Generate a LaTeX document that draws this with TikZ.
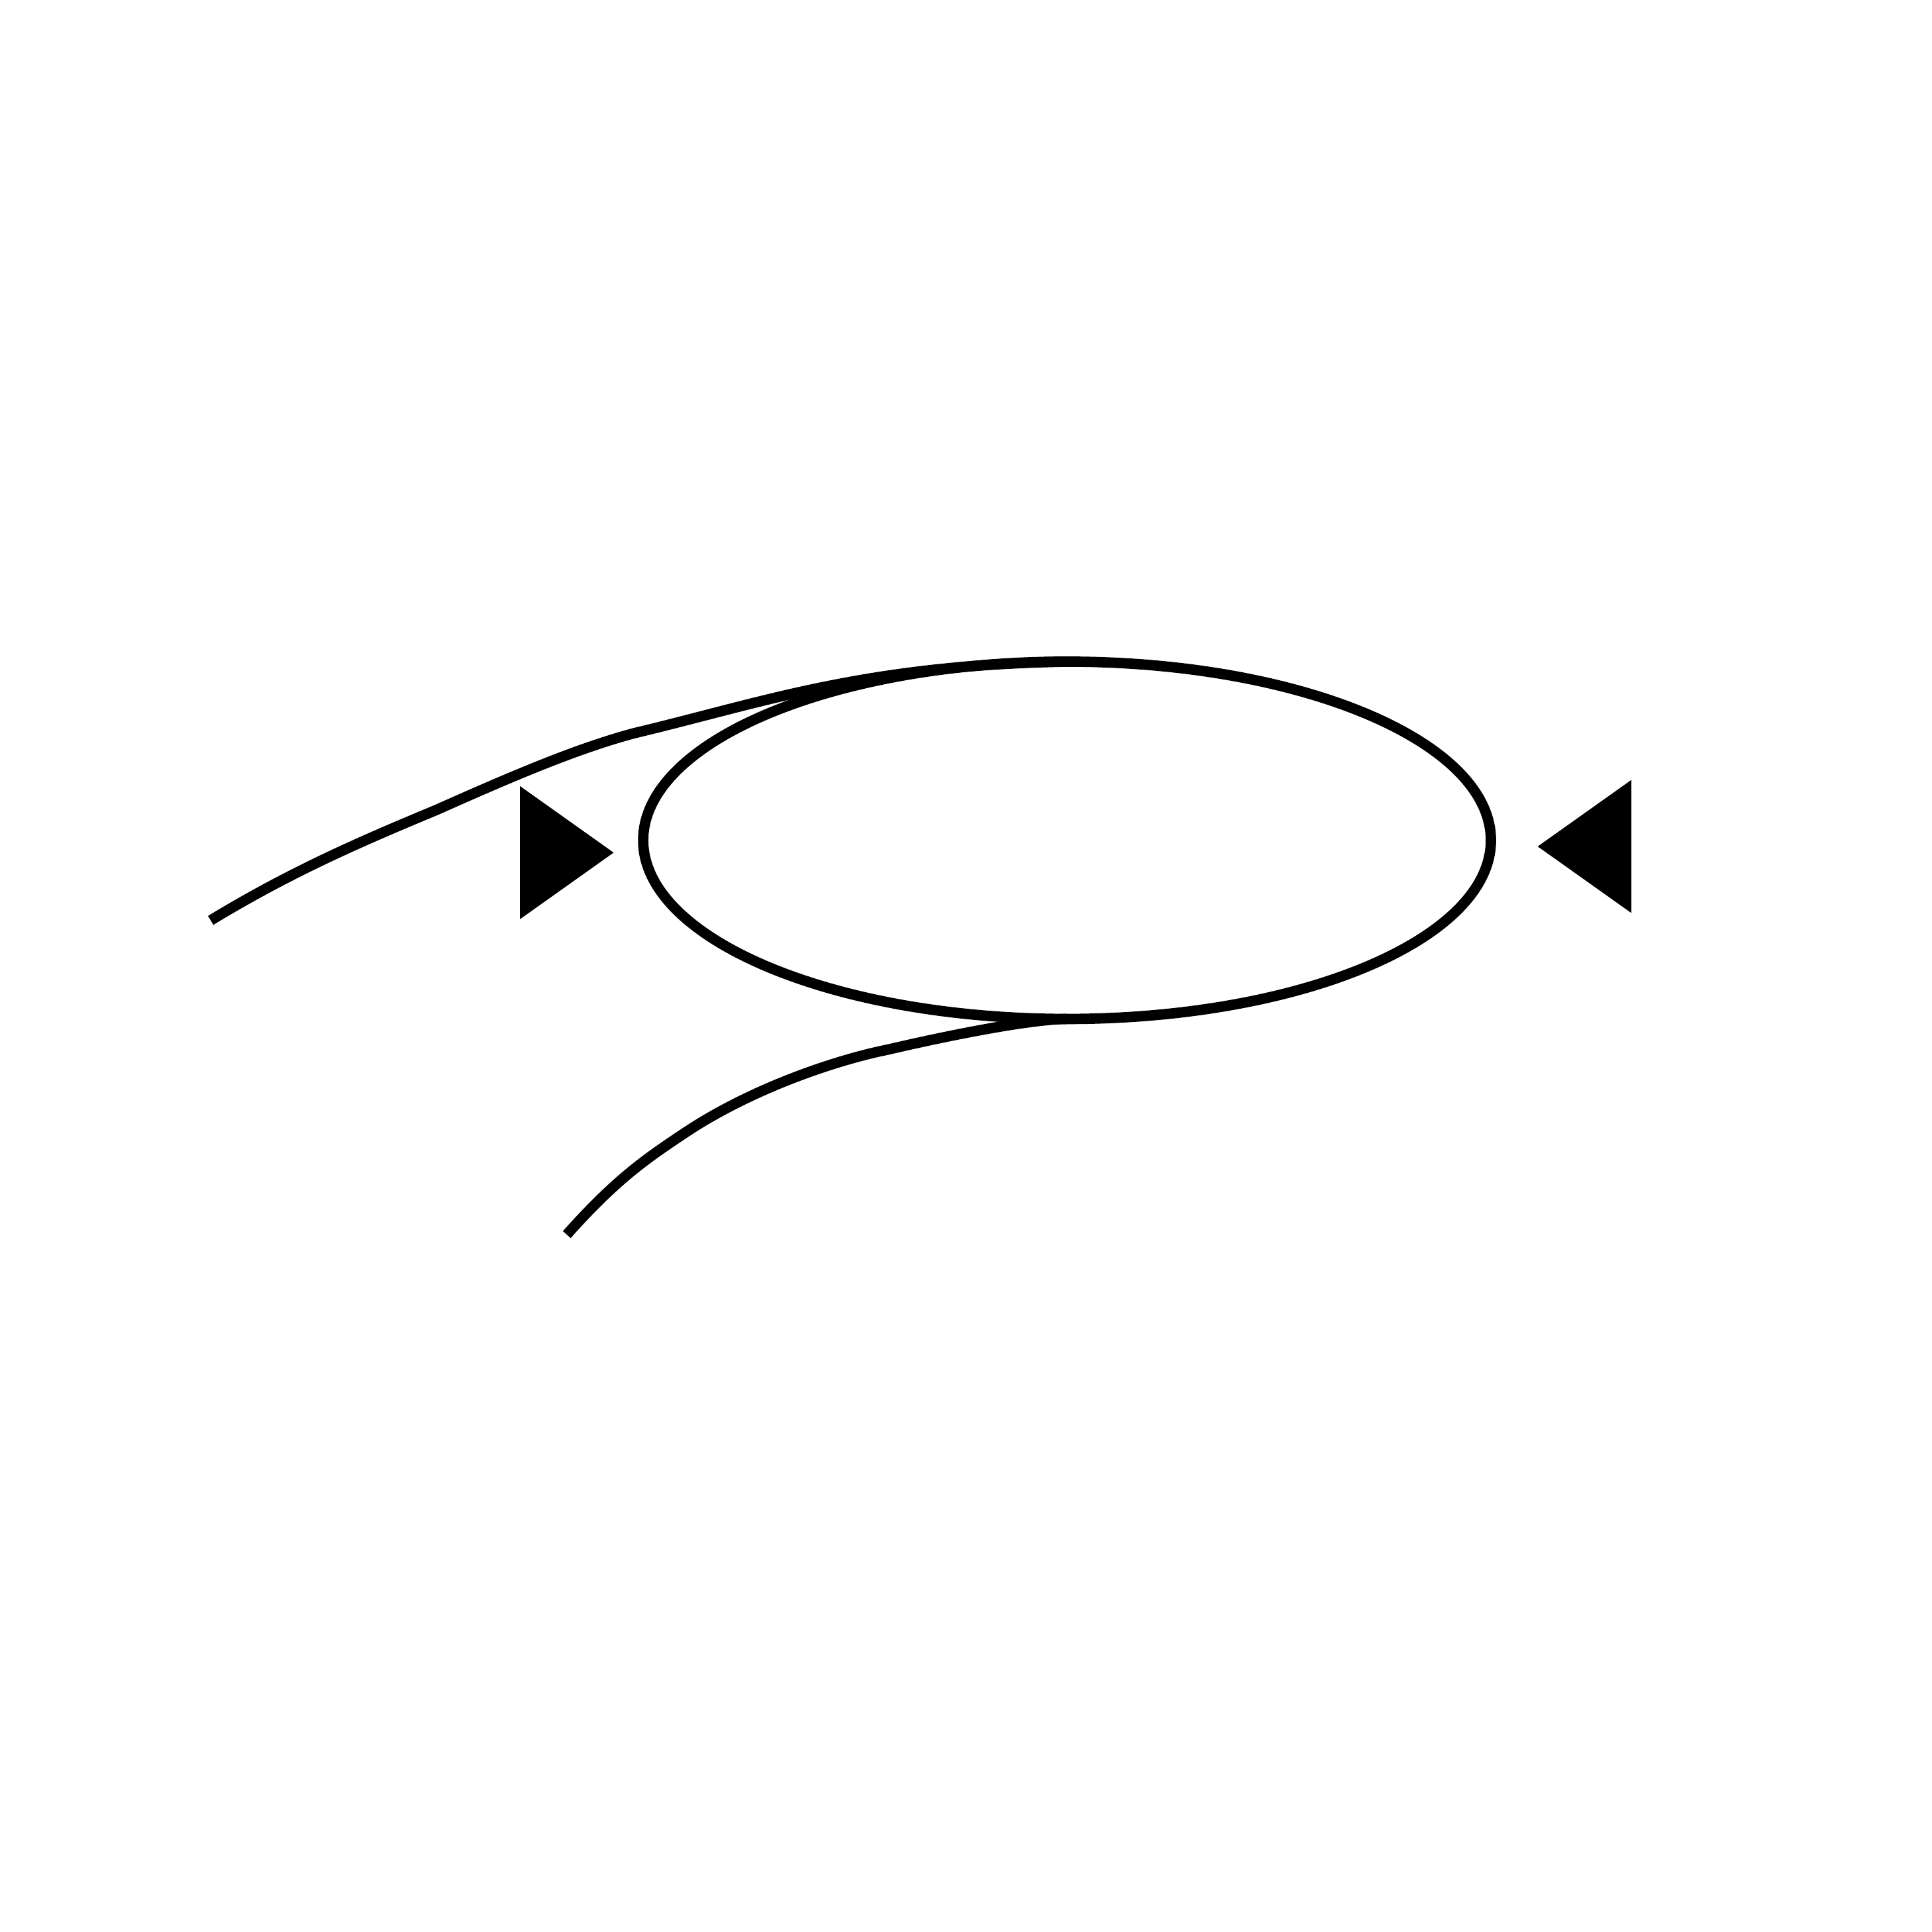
\documentclass[tikz,border=0pt]{standalone}
\usepackage{tikz}
\usetikzlibrary{shapes.geometric}

\begin{document}
\begin{tikzpicture}
    \useasboundingbox (0,0) rectangle (15.68,15.68);   % page frame

    \node [draw, line width=2.4pt, ellipse, inner sep=0pt, outer sep=0pt,
        minimum width=6.88cm, minimum height=2.9cm] (loop) at (8.66,8.86) {};   % the loop

    \draw [line width=2.4pt] (1.71,8.21)                 % upper strand
        .. controls (2.40,8.63) and (3.00,8.88) .. (3.55,9.11)
        .. controls (4.20,9.40) and (4.70,9.61) .. (5.15,9.73)
        .. controls (6.20,9.98) and (7.00,10.28) .. (loop.north);

    \draw [line width=2.4pt] (4.60,5.66)                 % lower strand
        .. controls (5.00,6.11) and (5.25,6.28) .. (5.55,6.48)
        .. controls (6.10,6.85) and (6.80,7.08) .. (7.20,7.16)
        .. controls (7.80,7.30) and (8.40,7.41) .. (loop.south);

    \fill (4.22,9.30) -- (4.22,8.22) -- (4.98,8.76) -- cycle;      % left marker
    \fill (13.24,9.35) -- (13.24,8.27) -- (12.48,8.81) -- cycle;   % right marker
\end{tikzpicture}
\end{document}
